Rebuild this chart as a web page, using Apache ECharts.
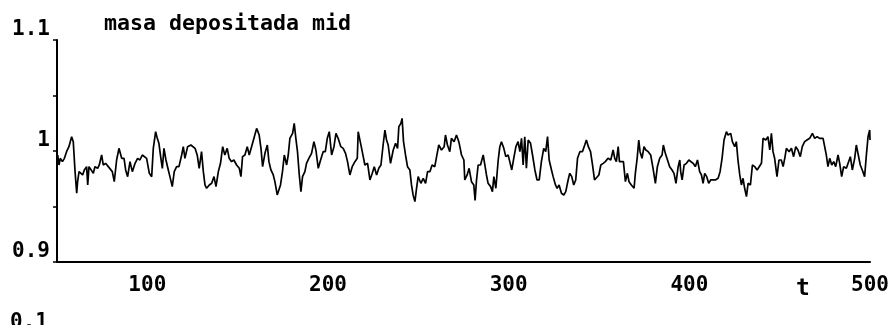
<!DOCTYPE html>
<html>
<head>
<meta charset="utf-8">
<script src="https://cdn.jsdelivr.net/npm/echarts@6/dist/echarts.min.js"></script>
<style>
html,body{margin:0;padding:0;background:#fff;}
#chart{width:892px;height:325px;}
</style>
</head>
<body>
<div id="chart"></div>
<script>
var titleText = 'masa depositada mid';
var xAxisName = 't';
var nextPanelLabel = '0.1';
var xTickLabels = [100, 200, 300, 400, 500];
var yTickLabels = [0.9, 1, 1.1];

var tValues = [
50.4,51.1,51.8,53.0,54.1,55.3,56.6,58.1,59.0,60.0,60.9,61.4,62.2,63.3,64.2,65.1,66.4,67.0,67.7,68.8,70.1,71.0,72.5,73.4,74.7,75.6,76.9,78.4,79.5,80.6,81.7,83.0,84.3,85.8,87.1,88.0,89.1,90.4,91.7,93.2,94.6,95.9,97.2,98.3,99.6,101.1,102.4,103.3,104.6,105.5,106.4,107.5,108.3,109.2,110.3,111.6,112.5,113.8,114.9,116.2,117.5,119.0,119.9,120.8,122.3,124.1,
125.1,126.4,127.6,128.7,130.0,131.0,131.9,132.8,134.3,135.6,136.9,138.0,139.3,140.5,141.7,142.9,144.2,145.3,146.6,147.9,149.4,150.9,151.8,152.7,154.0,155.3,156.4,157.7,159.0,160.5,161.9,162.9,163.8,165.1,166.4,167.3,168.4,169.7,170.6,171.9,173.0,173.7,174.8,175.8,177.1,178.0,178.9,180.4,181.3,182.2,183.1,184.1,185.0,185.9,187.2,188.1,189.4,190.9,192.2,193.3,194.6,195.9,197.3,198.5,199.6,200.7,
201.0,202.0,203.3,204.4,205.6,207.1,208.4,209.7,210.8,212.1,213.4,214.9,216.2,216.7,217.6,218.6,219.5,220.4,221.9,223.2,224.5,225.6,226.9,228.1,229.3,230.5,231.5,232.4,233.3,234.6,236.1,237.4,238.5,239.2,240.3,241.0,241.8,242.9,244.0,245.3,246.2,247.1,248.1,249.0,249.9,251.4,252.7,254.0,255.1,256.4,257.6,259.1,260.1,261.3,262.8,264.3,265.0,266.1,267.4,268.3,269.8,271.1,272.4,
273.9,275.2,275.7,277.0,278.1,279.4,280.7,281.4,282.2,283.1,284.4,285.9,286.8,287.7,288.6,290.0,291.0,291.8,292.9,294.2,295.1,296.0,297.3,298.4,299.7,300.6,301.7,302.8,304.0,305.2,306.2,307.1,308.0,308.9,309.8,310.8,312.1,313.2,314.5,315.7,316.9,318.1,319.4,320.5,321.5,322.4,323.7,324.6,325.9,326.8,327.9,329.2,330.5,331.6,332.9,333.8,334.9,336.0,337.1,338.1,339.4,340.8,342.1,343.0,344.1,345.3,346.4,347.5,
348.6,349.9,351.0,352.3,353.5,355.0,356.5,357.8,358.7,359.6,360.6,361.3,362.4,363.5,364.6,365.7,366.6,367.9,369.4,370.1,371.1,372.0,372.7,373.8,374.9,375.9,377.2,378.6,379.9,381.2,382.3,383.6,384.9,385.6,386.7,387.9,389.1,390.4,391.5,392.6,393.8,394.7,395.2,396.0,397.1,398.4,399.7,400.8,402.1,403.3,404.5,405.7,406.7,407.6,408.5,409.6,410.7,411.8,413.1,414.4,415.9,417.0,418.1,419.2,420.5,421.4,
422.9,423.8,425.1,426.0,426.9,427.9,428.8,429.7,430.6,431.6,432.5,433.8,434.9,436.2,437.5,438.6,439.9,440.8,442.3,443.5,444.5,445.4,446.3,447.2,448.5,449.6,450.9,451.9,452.8,453.7,455.2,456.5,457.7,458.9,460.1,461.4,462.5,463.8,465.1,466.6,468.1,469.4,470.7,472.1,474.0,474.9,475.8,476.7,477.7,478.8,479.9,481.0,482.3,483.2,484.3,485.4,486.9,487.8,489.1,490.2,491.5,492.4,493.5,494.6,495.7,497.0,497.9,498.9,499.8,500
];

var massValues = [
0.9964,0.9874,0.9934,0.9904,0.9934,0.9994,1.0039,1.0129,1.0084,0.9814,0.9619,0.9724,0.9814,0.9829,0.9784,0.9829,0.9859,0.9694,0.9859,0.9844,0.9799,0.9859,0.9844,0.9874,0.9964,0.9874,0.9889,0.9859,0.9844,0.9814,0.9724,0.9919,1.0024,0.9934,0.9934,0.9829,0.9769,0.9904,0.9814,0.9889,0.9934,0.9919,0.9964,0.9979,0.9934,0.9799,0.9769,1.0024,1.0174,1.0114,1.0069,0.9934,0.9844,1.0024,0.9919,0.9829,0.9769,0.9679,0.9814,0.9859,0.9859,0.9964,1.0039,0.9934,1.0039,1.0054,
1.0054,1.0024,0.9964,0.9844,0.9994,0.9814,0.9694,0.9664,0.9694,0.9709,0.9769,0.9679,0.9814,0.9889,1.0039,0.9964,1.0024,0.9934,0.9904,0.9919,0.9874,0.9844,0.9769,0.9949,0.9964,1.0039,0.9964,1.0039,1.0114,1.0204,1.0144,1.0024,0.9859,0.9979,1.0054,0.9904,0.9829,0.9784,0.9724,0.9604,0.9589,0.9694,0.9814,0.9964,0.9874,0.9964,1.0114,1.0159,1.0249,1.0114,0.9994,0.9784,0.9634,0.9769,0.9814,0.9889,0.9934,0.9979,1.0084,1.0009,0.9844,0.9919,0.9994,0.9994,1.0114,1.0174,
1.0159,0.9964,1.0039,1.0159,1.0114,1.0039,1.0024,0.9979,0.9904,0.9784,0.9859,0.9904,0.9934,1.0174,1.0189,1.0024,0.9949,0.9874,0.9889,0.9739,0.9799,0.9859,0.9784,0.9844,0.9874,1.0054,1.0189,1.0099,1.0054,0.9889,1.0009,1.0069,1.0024,1.0219,1.0249,1.0294,1.0084,0.9964,0.9859,0.9829,0.9694,0.9604,0.9544,0.9664,0.9769,0.9709,0.9754,0.9709,0.9814,0.9814,0.9874,0.9859,0.9949,1.0054,1.0009,1.0039,1.0144,1.0054,0.9994,1.0114,1.0084,1.0144,1.0084,
0.9964,0.9919,0.9739,0.9784,0.9844,0.9724,0.9694,0.9554,0.9739,0.9874,0.9874,0.9964,0.9874,0.9784,0.9709,0.9679,0.9634,0.9769,0.9664,0.9919,1.0039,1.0084,1.0024,0.9949,0.9964,0.9904,0.9829,0.9934,1.0039,1.0084,0.9994,1.0114,0.9874,1.0129,0.9844,1.0099,1.0069,0.9964,0.9829,0.9739,0.9739,0.9904,1.0024,0.9994,1.0129,0.9919,0.9829,0.9769,0.9694,0.9664,0.9694,0.9619,0.9604,0.9634,0.9739,0.9799,0.9769,0.9694,0.9739,0.9934,0.9994,0.9994,1.0054,1.0099,1.0039,0.9994,0.9874,0.9739,
0.9724,0.9784,0.9874,0.9889,0.9904,0.9934,0.9919,1.0009,0.9934,0.9904,1.0039,0.9904,0.9889,0.9904,0.9724,0.9799,0.9724,0.9694,0.9664,0.9799,0.9934,1.0099,0.9994,0.9934,1.0039,1.0009,0.9994,0.9964,0.9844,0.9709,0.9859,0.9934,0.9964,1.0054,0.9979,0.9919,0.9859,0.9829,0.9799,0.9709,0.9859,0.9919,0.9814,0.9739,0.9874,0.9889,0.9919,0.9934,0.9889,0.9859,0.9919,0.9814,0.9784,0.9709,0.9799,0.9769,0.9709,0.9739,0.9739,0.9739,0.9754,0.9814,0.9934,1.0099,1.0174,1.0144,
1.0159,1.0084,1.0039,1.0084,0.9919,0.9784,0.9694,0.9754,0.9664,0.9589,0.9709,0.9694,0.9874,0.9859,0.9829,0.9829,0.9889,1.0114,1.0099,1.0129,1.0009,1.0159,0.9994,0.9934,0.9769,0.9919,0.9919,0.9859,0.9934,1.0024,0.9994,1.0024,0.9949,1.0039,1.0009,0.9949,1.0039,1.0084,1.0099,1.0114,1.0159,1.0114,1.0129,1.0114,1.0114,1.0099,0.9964,0.9859,0.9934,0.9874,0.9904,0.9859,0.9964,0.9889,0.9769,0.9859,0.9844,0.9859,0.9949,0.9829,0.9934,1.0054,0.9964,0.9874,0.9829,0.9769,0.9949,1.0129,1.0189,1.0099
];

var n = Math.min(tValues.length, massValues.length);
var seriesData = [];
for (var i = 0; i < n; i++) seriesData.push([tValues[i], massValues[i]]);

var monoFont = "'DejaVu Sans Mono', 'Liberation Mono', monospace";

var chart = echarts.init(document.getElementById('chart'), null, {renderer: 'canvas'});
chart.setOption({
  backgroundColor: '#ffffff',
  animation: false,
  grid: {left: 57, right: 20, top: 40, bottom: 63, containLabel: false},
  xAxis: {
    type: 'value',
    min: 50,
    max: 500,
    interval: 50,
    axisLine: {show: true, lineStyle: {color: '#000', width: 2}},
    axisTick: {show: false},
    splitLine: {show: false},
    axisLabel: {
      show: true,
      margin: 13,
      color: '#000',
      fontFamily: monoFont,
      fontWeight: 'bold',
      fontSize: 21,
      showMinLabel: true,
      showMaxLabel: true,
      formatter: function (v) {
        return xTickLabels.indexOf(Math.round(v)) >= 0 ? String(Math.round(v)) : '';
      }
    }
  },
  yAxis: {
    type: 'value',
    min: 0.9,
    max: 1.1,
    interval: 0.05,
    axisLine: {show: true, lineStyle: {color: '#000', width: 2}},
    axisTick: {show: true, inside: false, length: 4, lineStyle: {color: '#000', width: 1.5}},
    splitLine: {show: false},
    axisLabel: {
      show: true,
      margin: 7,
      color: '#000',
      fontFamily: monoFont,
      fontWeight: 'bold',
      fontSize: 21,
      verticalAlign: 'bottom',
      formatter: function (v) {
        var r = Math.round(v * 100) / 100;
        for (var k = 0; k < yTickLabels.length; k++) {
          if (Math.abs(yTickLabels[k] - r) < 1e-6) return String(yTickLabels[k]);
        }
        return '';
      }
    }
  },
  graphic: [
    {type: 'text', left: 104, top: 13, style: {text: titleText, fill: '#000', font: 'bold 21.6px ' + monoFont}},
    {type: 'text', left: 796, top: 278, style: {text: xAxisName, fill: '#000', font: 'bold 23px ' + monoFont}},
    {type: 'text', left: 10, top: 312, style: {text: nextPanelLabel, fill: '#000', font: 'bold 21px ' + monoFont}}
  ],
  series: [{
    type: 'line',
    data: seriesData,
    showSymbol: false,
    symbol: 'none',
    smooth: false,
    lineStyle: {color: '#000', width: 1.7},
    clip: true
  }]
});
</script>
</body>
</html>
